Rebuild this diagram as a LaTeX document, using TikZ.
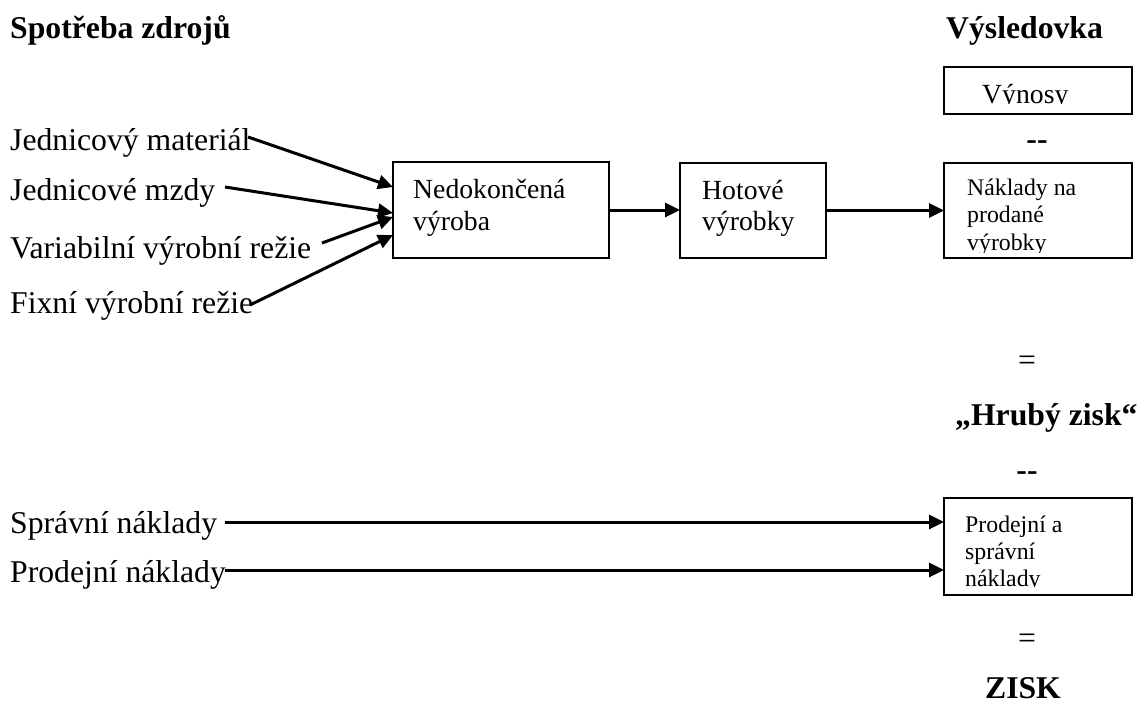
\documentclass[tikz,border=0pt]{standalone}
\usepackage{fontspec}
\setmainfont{Liberation Serif}
\usetikzlibrary{arrows.meta,calc}
\begin{document}
\begin{tikzpicture}[x=1pt,y=-1pt,
  big/.style={inner sep=0pt,anchor=base west,font=\fontsize{31.7}{36}\selectfont},
  bigb/.style={inner sep=0pt,font=\fontsize{31.7}{36}\selectfont\bfseries},
  mid/.style={inner sep=0pt,anchor=base west,font=\fontsize{27.7}{32}\selectfont},
  small/.style={inner sep=0pt,anchor=base west,font=\fontsize{23.8}{27}\selectfont},
  box/.style={draw,line width=1.9pt,rectangle,inner sep=0pt,outer sep=0pt},
  arr/.style={line width=3pt,-{Triangle[length=15pt,width=14pt]}}]
\useasboundingbox (0,0) rectangle (1138,704);

% headings
\node[bigb,anchor=base west] (h1) at (10,38) {Spotřeba zdrojů};
\node[bigb,anchor=base west] (h2) at (946,38) {Výsledovka};

% boxes
\node[box,minimum width=216pt,minimum height=96pt] (ned) at (501,210) {};
\node[box,minimum width=146pt,minimum height=95pt] (hot) at (753,210.5) {};
\node[box,minimum width=188pt,minimum height=47pt] (vyn) at (1038,90.5) {};
\node[box,minimum width=188pt,minimum height=95pt] (nak) at (1038,210.5) {};
\node[box,minimum width=188pt,minimum height=97pt] (pro) at (1038,546.5) {};

% box texts
\node[mid] (t1) at (413,198) {Nedokončená};
\node[mid] (t2) at (413,230) {výroba};
\node[mid] (t3) at (702,199) {Hotové};
\node[mid] (t4) at (702,230) {výrobky};
\begin{scope}
  \clip (945,68) rectangle (1131,103.5);
  \node[mid] (t5) at (982,103) {Výnosy};
\end{scope}
\begin{scope}
  \clip (945,164) rectangle (1131,252);
  \node[small] (t6) at (967,195) {Náklady na};
  \node[small] (t7) at (967,222) {prodané};
  \node[small] (t8) at (967,250) {výrobky};
\end{scope}
\begin{scope}
  \clip (945,499) rectangle (1131,586);
  \node[small] (t9) at (965,532) {Prodejní a};
  \node[small] (t10) at (965,559) {správní};
  \node[small] (t11) at (965,586) {náklady};
\end{scope}

% right column signs
\node[bigb,anchor=base] (m1) at (1037,149) {-{}-};
\node[inner sep=0pt,anchor=base,font=\fontsize{31.7}{36}\selectfont] (e1) at (1027,370) {=};
\node[bigb,anchor=base west] (hz) at (955,425) {„Hrubý zisk“};
\node[bigb,anchor=base] (m2) at (1027,480) {-{}-};
\node[inner sep=0pt,anchor=base,font=\fontsize{31.7}{36}\selectfont] (e2) at (1027,648) {=};
\node[bigb,anchor=base] (zisk) at (1023,698) {ZISK};

% left labels
\node[big] (l1) at (10,150) {Jednicový materiál};
\node[big] (l2) at (10,200) {Jednicové mzdy};
\node[big] (l3) at (10,258) {Variabilní výrobní režie};
\node[big] (l4) at (10,313) {Fixní výrobní režie};
\node[big] (l5) at (10,533) {Správní náklady};
\node[big] (l6) at (10,582) {Prodejní náklady};

% arrow start points
\coordinate (s1) at (248,137);
\coordinate (s2) at (225,187);
\coordinate (s3) at (322,243);
\coordinate (s4) at (250,305);
\coordinate (s5) at (225,522);
\coordinate (s6) at (225,570);

\draw[arr] (s1) -- ($(ned.north west)+(0,25)$);
\draw[arr] (s2) -- ($(ned.north west)+(0,51)$);
\draw[arr] (s3) -- ($(ned.north west)+(0,55)$);
\draw[arr] (s4) -- ($(ned.north west)+(0,73)$);
\draw[arr] (ned.east) -- (ned.east -| hot.west);
\draw[arr] (hot.east) -- (hot.east -| nak.west);
\draw[arr] (s5) -- (s5 -| pro.west);
\draw[arr] (s6) -- (s6 -| pro.west);
\end{tikzpicture}
\end{document}
